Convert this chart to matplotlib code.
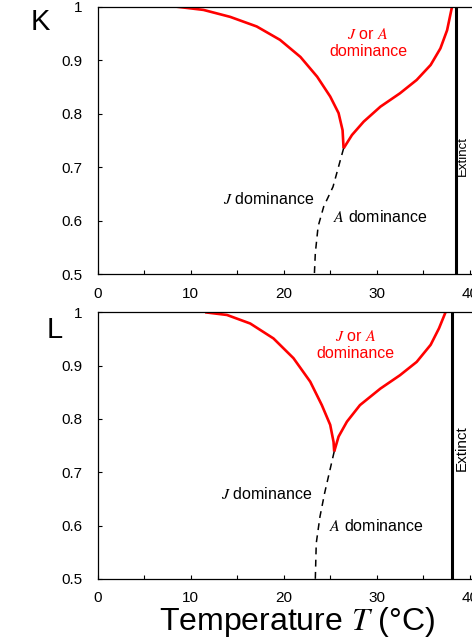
import numpy as np
import matplotlib.pyplot as plt

plt.rcParams['font.family'] = ['Liberation Sans', 'DejaVu Sans']
plt.rcParams['mathtext.fontset'] = 'stix'

# panel K: boundaries (temperature, value)
k_left_T = [8.5, 11.37, 14.24, 17.1, 19.6, 21.8, 23.6, 25.0, 25.9, 26.33, 26.44]
k_left_y = [1.0, 0.994, 0.981, 0.963, 0.938, 0.906, 0.869, 0.832, 0.801, 0.769, 0.735]
k_right_T = [26.44, 27.34, 28.6, 30.4, 32.5, 34.3, 35.8, 36.85, 37.57, 38.1]
k_right_y = [0.735, 0.760, 0.785, 0.813, 0.838, 0.863, 0.891, 0.922, 0.956, 1.0]
k_dash_T = [26.44, 25.3, 24.3, 23.7, 23.4, 23.3]
k_dash_y = [0.735, 0.663, 0.626, 0.589, 0.539, 0.5]
k_extinct = 38.5

# panel L
l_left_T = [11.55, 13.9, 16.4, 18.9, 21.05, 22.85, 24.1, 25.0, 25.36, 25.43]
l_left_y = [1.0, 0.995, 0.979, 0.951, 0.914, 0.870, 0.826, 0.789, 0.757, 0.739]
l_right_T = [25.43, 25.9, 26.8, 28.2, 30.4, 32.5, 34.3, 35.8, 36.7, 37.4]
l_right_y = [0.739, 0.767, 0.795, 0.826, 0.857, 0.882, 0.907, 0.939, 0.970, 1.0]
l_dash_T = [25.43, 24.4, 23.9, 23.5, 23.4]
l_dash_y = [0.739, 0.661, 0.617, 0.567, 0.5]
l_extinct = 38.1

xticks = [0, 10, 20, 30, 40]
yticks = [0.5, 0.6, 0.7, 0.8, 0.9, 1.0]
ytick_labels = ['0.5', '0.6', '0.7', '0.8', '0.9', '1']

fig = plt.figure(figsize=(4.72, 6.39), dpi=100)
W, H = 472, 639


def panel(rect, letter, letter_xy, left, right, dash, extinct, texts):
    x0, top, x1, bot = rect
    ax = fig.add_axes([x0 / W, 1 - bot / H, (x1 - x0) / W, (bot - top) / H])
    ax.plot(left[0], left[1], color='#ff0000', lw=1.9, solid_capstyle='butt')
    ax.plot(right[0], right[1], color='#ff0000', lw=1.9, solid_capstyle='butt')
    ax.plot(dash[0], dash[1], color='black', lw=1.1, dashes=(4.5, 3.5))
    ax.axvline(extinct, color='black', lw=2.2)
    ax.set_xlim(0, 41)
    ax.set_ylim(0.5, 1.0)
    ax.set_xticks(xticks)
    ax.set_xticks([5, 15, 25, 35], minor=True)
    ax.set_yticks(yticks)
    ax.set_yticklabels(ytick_labels)
    ax.tick_params(axis='x', which='both', direction='in', length=3, width=0.8,
                   labelsize=11, pad=9)
    ax.tick_params(axis='y', direction='in', length=3, width=0.8, labelsize=11, pad=11)
    ax.spines['right'].set_visible(False)
    for s in ['left', 'bottom', 'top']:
        ax.spines[s].set_linewidth(0.9)
    (ja_x, ja_y), (jd_x, jd_y), (ad_x, ad_y), (ex_x, ex_y, ex_fs) = texts
    ax.text(ja_x, ja_y, r'$\mathit{J}$ or $\mathit{A}$' + '\ndominance', color='#ff0000',
            fontsize=11.5, ha='center', va='center', linespacing=1.15)
    ax.text(jd_x, jd_y, r'$\mathit{J}$ dominance', fontsize=11.5, ha='center', va='center')
    ax.text(ad_x, ad_y, r'$\mathit{A}$ dominance', fontsize=11.5, ha='center', va='center')
    ax.text(ex_x, ex_y, 'Extinct', fontsize=ex_fs, rotation=90, ha='center', va='center')
    fig.text(letter_xy[0] / W, 1 - letter_xy[1] / H, letter, fontsize=21,
             ha='center', va='center')
    return ax


panel((97.7, 6.7, 479, 274), 'K', (40, 22),
      (k_left_T, k_left_y), (k_right_T, k_right_y), (k_dash_T, k_dash_y), k_extinct,
      ((29.06, 0.932), (18.4, 0.64), (30.4, 0.606), (39.3, 0.72, 9.5)))

panel((97.7, 312.3, 479, 579), 'L', (55, 330),
      (l_left_T, l_left_y), (l_right_T, l_right_y), (l_dash_T, l_dash_y), l_extinct,
      ((27.7, 0.939), (18.2, 0.66), (29.9, 0.60), (39.1, 0.745, 11)))

fig.text(297 / W, 1 - 622 / H, r'Temperature $\mathit{T}$ (°C)', fontsize=23,
         ha='center', va='center')

fig.savefig('out.png', dpi=100)
